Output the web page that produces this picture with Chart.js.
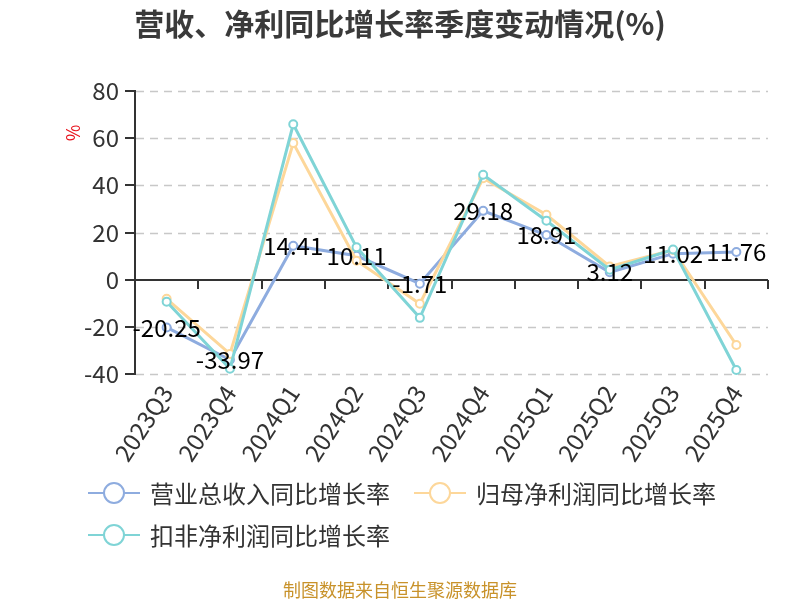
<!DOCTYPE html>
<html>
<head>
<meta charset="utf-8">
<script src="https://cdn.jsdelivr.net/npm/chart.js@4.4.1/dist/chart.umd.min.js"></script>
<style>
  html, body { margin: 0; padding: 0; background: #fff; }
  #wrap { position: relative; width: 800px; height: 600px; font-family: "Noto Sans CJK SC", "Noto Sans", sans-serif; }
  #c { position: absolute; left: 0; top: 0; }
  #title { position: absolute; left: 0; width: 800px; top: 1px; text-align: center; font-size: 30px; font-weight: bold; color: #3a3a3a; line-height: 42px; }
  .leg { position: absolute; display: flex; align-items: center; font-size: 24px; color: #333; line-height: 30px; white-space: nowrap; }
  .leg svg { margin-right: 10px; }
  #footer { position: absolute; left: 0; width: 800px; top: 576px; text-align: center; font-size: 18px; color: #c8922a; line-height: 26px; }
</style>
</head>
<body>
<div id="wrap">
  <canvas id="c" width="800" height="600"></canvas>
  <div id="title">营收、净利同比增长率季度变动情况(%)</div>
  <div id="legend"></div>
  <div id="footer">制图数据来自恒生聚源数据库</div>
</div>
<script>
const categories = ['2023Q3','2023Q4','2024Q1','2024Q2','2024Q3','2024Q4','2025Q1','2025Q2','2025Q3','2025Q4'];
const revenueYoY = [-20.25, -33.97, 14.41, 10.11, -1.71, 29.18, 18.91, 3.12, 11.02, 11.76];
const netProfitYoY = [-8.1, -31.5, 57.9, 8.0, -10.2, 43.0, 27.5, 5.6, 12.6, -27.7];
const deductedNetProfitYoY = [-9.4, -37.8, 65.9, 13.7, -16.2, 44.5, 25.0, 4.2, 12.8, -38.3];
const seriesNames = ['营业总收入同比增长率', '归母净利润同比增长率', '扣非净利润同比增长率'];
const yTicks = { min: -40, max: 80, step: 20 };
const colors = ['#8eacdf', '#fdd79a', '#7fd4d6'];

const legendPos = [[88, 478], [414, 478], [88, 520]];
const legendEl = document.getElementById('legend');
seriesNames.forEach((name, i) => {
  const d = document.createElement('div');
  d.className = 'leg';
  d.style.left = legendPos[i][0] + 'px';
  d.style.top = legendPos[i][1] + 'px';
  d.innerHTML = '<svg width="52" height="26"><line x1="0" y1="13" x2="52" y2="13" stroke="' + colors[i] + '" stroke-width="2"/>' +
    '<circle cx="26" cy="13" r="10" fill="#fff" stroke="' + colors[i] + '" stroke-width="2"/></svg><span>' + name + '</span>';
  legendEl.appendChild(d);
});

const decorPlugin = {
  id: 'decor',
  beforeDatasetsDraw(chart) {
    const { ctx, chartArea, scales } = chart;
    const xl = Math.round(chartArea.left);
    const xr = Math.round(chartArea.right);
    const y0 = Math.round(scales.y.getPixelForValue(0));
    ctx.save();
    // dashed horizontal grid lines (not at zero)
    ctx.strokeStyle = '#c8c8c8';
    ctx.lineWidth = 1.5;
    ctx.setLineDash([8, 6]);
    scales.y.ticks.forEach(t => {
      if (t.value === 0) return;
      const y = Math.round(scales.y.getPixelForValue(t.value)) + 0.5;
      ctx.beginPath();
      ctx.moveTo(xl + 1, y);
      ctx.lineTo(xr, y);
      ctx.stroke();
    });
    ctx.setLineDash([]);
    ctx.fillStyle = '#333';
    // zero line
    ctx.fillRect(xl, y0 - 1, xr - xl, 2);
    // category boundary ticks on the zero line
    const n = categories.length;
    const xs = [];
    for (let i = 0; i < n - 1; i++) {
      xs.push((scales.x.getPixelForValue(i) + scales.x.getPixelForValue(i + 1)) / 2);
    }
    xs.push(chartArea.right);
    xs.forEach(x => { ctx.fillRect(Math.round(x) - 1, y0, 2, 9); });
    // axis unit label
    ctx.translate(73, chartArea.top + 42);
    ctx.rotate(-Math.PI / 2);
    ctx.fillStyle = '#e8141e';
    ctx.font = '18px "Noto Sans CJK SC"';
    ctx.textAlign = 'center';
    ctx.textBaseline = 'middle';
    ctx.fillText('%', 0, 0);
    ctx.restore();
  },
  afterDatasetsDraw(chart) {
    const { ctx, chartArea, scales } = chart;
    ctx.save();
    ctx.fillStyle = '#333';
    const xl = Math.round(chartArea.left);
    ctx.fillRect(xl - 1, Math.round(chartArea.top) - 1, 2, Math.round(chartArea.bottom - chartArea.top) + 2);
    scales.y.ticks.forEach(t => {
      const y = Math.round(scales.y.getPixelForValue(t.value));
      ctx.fillRect(xl - 10, y - 1, 10, 2);
    });
    const meta = chart.getDatasetMeta(0);
    ctx.fillStyle = '#000';
    ctx.font = '24px "Noto Sans CJK SC"';
    ctx.textAlign = 'center';
    ctx.textBaseline = 'middle';
    meta.data.forEach((pt, i) => {
      ctx.fillText(revenueYoY[i].toFixed(2), pt.x, pt.y);
    });
    ctx.restore();
  }
};

function ds(label, data, color, order) {
  return {
    label, data, order,
    borderColor: color,
    backgroundColor: '#fff',
    borderWidth: 3,
    pointRadius: 4,
    pointBorderWidth: 2,
    pointBackgroundColor: '#fff',
    pointBorderColor: color,
    tension: 0,
    clip: false
  };
}

new Chart(document.getElementById('c'), {
  type: 'line',
  data: {
    labels: categories,
    datasets: [
      ds(seriesNames[0], revenueYoY, colors[0], 2),
      ds(seriesNames[1], netProfitYoY, colors[1], 1),
      ds(seriesNames[2], deductedNetProfitYoY, colors[2], 0)
    ]
  },
  options: {
    responsive: false,
    animation: false,
    events: [],
    layout: { padding: { left: 0, top: 91, right: 32, bottom: 126 } },
    plugins: { legend: { display: false }, title: { display: false }, tooltip: { enabled: false } },
    scales: {
      x: {
        type: 'category',
        offset: true,
        grid: { display: false, drawTicks: false },
        border: { display: false },
        ticks: {
          autoSkip: false,
          maxRotation: 57, minRotation: 57,
          padding: 6,
          color: '#333',
          font: { family: 'Noto Sans CJK SC', size: 24 }
        },
        afterFit(scale) { scale.height = 100; }
      },
      y: {
        min: yTicks.min, max: yTicks.max,
        grid: { display: false, drawTicks: false },
        border: { display: false },
        ticks: {
          stepSize: yTicks.step,
          padding: 16,
          color: '#333',
          font: { family: 'Noto Sans CJK SC', size: 24 }
        },
        afterFit(scale) { scale.width = 135; }
      }
    }
  },
  plugins: [decorPlugin]
});
</script>
</body>
</html>
